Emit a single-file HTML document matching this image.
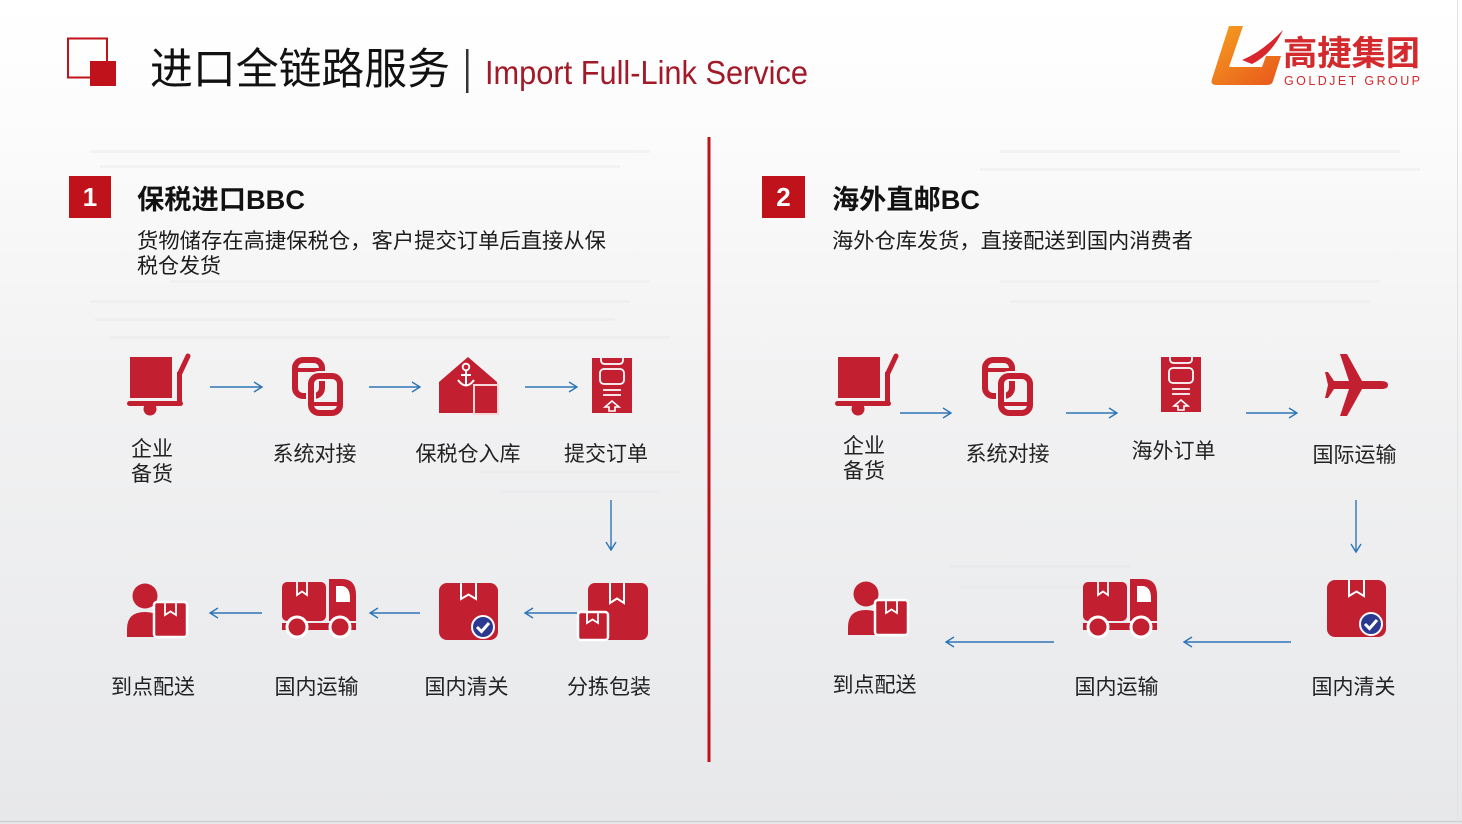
<!DOCTYPE html>
<html><head><meta charset="utf-8">
<style>
html,body{margin:0;padding:0;width:1462px;height:824px;overflow:hidden;background:#fff;}
svg{display:block;}
text{font-family:"Liberation Sans","Noto Sans CJK SC",sans-serif;}
</style></head>
<body>
<svg width="1462" height="824" viewBox="0 0 1462 824" xmlns="http://www.w3.org/2000/svg">
<defs>
  <linearGradient id="bg" x1="0" y1="0" x2="0" y2="1">
    <stop offset="0" stop-color="#ffffff"/>
    <stop offset="0.14" stop-color="#fcfcfc"/>
    <stop offset="0.45" stop-color="#f2f2f3"/>
    <stop offset="1" stop-color="#e7e8ea"/>
  </linearGradient>
  <linearGradient id="og" x1="0" y1="0" x2="1" y2="1">
    <stop offset="0" stop-color="#f6a020"/>
    <stop offset="1" stop-color="#e8561c"/>
  </linearGradient>
  <g id="cart" fill="#c21f30">
    <rect x="3" y="3" width="42" height="41"/>
    <rect x="0" y="47" width="56" height="5" rx="2.5"/>
    <rect x="50" y="18" width="5" height="33"/>
    <line x1="52.5" y1="20" x2="61" y2="2" stroke="#c21f30" stroke-width="5" stroke-linecap="round"/>
    <circle cx="23" cy="55" r="6.5"/>
  </g>
  <g id="sys" fill="none">
    <rect x="3" y="5" width="27" height="36" rx="8" stroke="#c21f30" stroke-width="6"/>
    <line x1="3" y1="15" x2="30" y2="15" stroke="#c21f30" stroke-width="4"/>
    <rect x="19" y="21" width="29" height="37" rx="8" stroke="#f1f1f2" stroke-width="10"/>
    <rect x="19" y="21" width="29" height="37" rx="8" stroke="#c21f30" stroke-width="6"/>
    <line x1="19" y1="49" x2="48" y2="49" stroke="#c21f30" stroke-width="4"/>
  </g>
  <g id="wh">
    <polygon points="0,25 29,0 58,25 58,56 0,56" fill="#c21f30"/>
    <circle cx="27" cy="10" r="3.3" fill="none" stroke="#fff" stroke-width="1.8"/>
    <line x1="27" y1="13.5" x2="27" y2="29" stroke="#fff" stroke-width="2"/>
    <line x1="22" y1="18" x2="32" y2="18" stroke="#fff" stroke-width="2"/>
    <path d="M19 23 Q27 34 35 23" fill="none" stroke="#fff" stroke-width="2"/>
    <rect x="35" y="28" width="24" height="29" fill="#c21f30" stroke="#f6d6d8" stroke-width="2"/>
  </g>
  <g id="ord">
    <rect x="0" y="0" width="40" height="55" fill="#c21f30"/>
    <path d="M9 0 L9 2 Q9 6 13 6 L27 6 Q31 6 31 2 L31 0" fill="none" stroke="#fff" stroke-width="1.8"/>
    <rect x="8" y="11" width="24" height="15" rx="4" fill="none" stroke="#fff" stroke-width="1.8"/>
    <line x1="11" y1="32" x2="29" y2="32" stroke="#fff" stroke-width="1.8"/>
    <line x1="11" y1="37" x2="29" y2="37" stroke="#fff" stroke-width="1.8"/>
    <path d="M20 43 L13 49 L17 49 L17 53 L23 53 L23 49 L27 49 Z" fill="none" stroke="#fff" stroke-width="1.6"/>
  </g>
  <g id="plane">
    <path d="M63 31 Q63 27 56 27 L37 27 L22 0 L15 0 L24 27 L9 27 L3 18 L0 18 L3 31 L0 44 L3 44 L9 35 L24 35 L15 62 L22 62 L37 35 L56 35 Q63 35 63 31 Z" fill="#c21f30"/>
  </g>
  <g id="person">
    <circle cx="18" cy="14" r="12.5" fill="#c21f30"/>
    <path d="M0 55 L0 47 Q0 30 18 30 Q28 30 33 35 L33 55 Z" fill="#c21f30"/>
    <rect x="27" y="20" width="33" height="35" rx="3" fill="#c21f30" stroke="#fff" stroke-width="2.5"/>
    <path d="M38 21 L38 33 L43.5 29.5 L49 33 L49 21" fill="none" stroke="#fff" stroke-width="1.8"/>
  </g>
  <g id="truck">
    <rect x="0" y="3" width="44" height="39" rx="5" fill="#c21f30"/>
    <path d="M15 3 L15 16 L20 12.5 L25 16 L25 3" fill="none" stroke="#fff" stroke-width="1.8"/>
    <path d="M47 0 L60 0 Q74 0 74 16 L74 42 L47 42 Z" fill="#c21f30"/>
    <path d="M54 7 L60 7 Q68 8 68 19 L68 23 L54 23 Z" fill="#fff"/>
    <rect x="0" y="44" width="74" height="7" fill="#c21f30"/>
    <circle cx="15" cy="48" r="10" fill="#c21f30" stroke="#fff" stroke-width="3"/>
    <circle cx="58" cy="48" r="10" fill="#c21f30" stroke="#fff" stroke-width="3"/>
  </g>
  <g id="boxc">
    <rect x="0" y="0" width="59" height="57" rx="8" fill="#c21f30"/>
    <path d="M22 0 L22 16 L29.5 11.5 L37 16 L37 0" fill="none" stroke="#fff" stroke-width="2"/>
    <circle cx="44" cy="44" r="11" fill="#2b3990" stroke="#fff" stroke-width="2"/>
    <path d="M38 44 L42.5 48.5 L50 40" fill="none" stroke="#fff" stroke-width="3"/>
  </g>
  <g id="boxes">
    <rect x="11" y="0" width="60" height="57" rx="7" fill="#c21f30"/>
    <path d="M33 0 L33 20 L40 15.5 L47 20 L47 0" fill="none" stroke="#fff" stroke-width="2"/>
    <rect x="1" y="29" width="30" height="28" rx="3" fill="#c21f30" stroke="#fff" stroke-width="2.5"/>
    <path d="M10 30 L10 40 L15.5 36.5 L21 40 L21 30" fill="none" stroke="#fff" stroke-width="1.8"/>
  </g>
</defs>

<rect x="0" y="0" width="1462" height="824" fill="url(#bg)"/>
<g fill="#e4e5e8" opacity="0.35">
  <rect x="90" y="150" width="560" height="3"/><rect x="100" y="165" width="520" height="3"/>
  <rect x="170" y="280" width="480" height="3"/><rect x="90" y="300" width="540" height="3"/>
  <rect x="95" y="318" width="520" height="3"/><rect x="110" y="336" width="560" height="3"/>
  <rect x="480" y="470" width="200" height="3"/><rect x="500" y="490" width="160" height="3"/>
  <rect x="1000" y="150" width="400" height="3"/><rect x="980" y="168" width="440" height="3"/>
  <rect x="1000" y="280" width="380" height="3"/><rect x="1010" y="300" width="360" height="3"/>
  <rect x="950" y="565" width="180" height="3"/><rect x="960" y="585" width="170" height="3"/>
</g>
<line x1="0" y1="821.5" x2="1462" y2="821.5" stroke="#cfd0d3" stroke-width="1.5"/>
<line x1="1457.5" y1="0" x2="1457.5" y2="822" stroke="#e0e1e3" stroke-width="1"/>

<rect x="68" y="38.5" width="39" height="39" fill="none" stroke="#c0121b" stroke-width="2"/>
<rect x="90" y="61" width="26" height="25" fill="#c0121b"/>
<text x="150" y="84" font-size="43" fill="#111" textLength="300" lengthAdjust="spacingAndGlyphs">进口全链路服务</text>
<rect x="466" y="49" width="2.5" height="44" fill="#333"/>
<text x="485" y="84" font-size="33" fill="#a11a28" textLength="323" lengthAdjust="spacingAndGlyphs">Import Full-Link Service</text>

<path d="M1229 26 L1243 26 L1229 67 L1262 67 L1266 56 L1281 56 L1273 81 Q1272 85 1267 85 L1216 85 Q1210 85 1212 79 Z" fill="url(#og)"/>
<path d="M1242 60 Q1262 52 1283 30 Q1272 54 1252 64 Z" fill="#d8262c"/>
<text x="1283" y="65" font-size="34" font-weight="bold" fill="#d42a2d" textLength="137" lengthAdjust="spacingAndGlyphs">高捷集团</text>
<text x="1284" y="85" font-size="12.5" fill="#d42a2d" textLength="136" lengthAdjust="spacing">GOLDJET GROUP</text>

<rect x="707.5" y="137" width="3" height="625" fill="#c0121b"/>

<rect x="69" y="176" width="42" height="42" fill="#c0121b"/>
<text x="90" y="206" font-size="26" font-weight="bold" fill="#fff" text-anchor="middle">1</text>
<text x="137" y="209" font-size="27" font-weight="bold" fill="#111" textLength="168" lengthAdjust="spacingAndGlyphs">保税进口BBC</text>
<text x="137" y="248" font-size="21" fill="#1c1c1c" textLength="469" lengthAdjust="spacingAndGlyphs">货物储存在高捷保税仓，客户提交订单后直接从保</text>
<text x="137" y="273" font-size="21" fill="#1c1c1c">税仓发货</text>

<rect x="762" y="176" width="43" height="42" fill="#c0121b"/>
<text x="783.5" y="206" font-size="26" font-weight="bold" fill="#fff" text-anchor="middle">2</text>
<text x="832" y="209" font-size="27" font-weight="bold" fill="#111" textLength="148" lengthAdjust="spacingAndGlyphs">海外直邮BC</text>
<text x="832" y="248" font-size="21" fill="#1c1c1c" textLength="361" lengthAdjust="spacingAndGlyphs">海外仓库发货，直接配送到国内消费者</text>

<use href="#cart" x="127" y="354"/>
<use href="#sys" x="292" y="355"/>
<use href="#wh" x="439" y="357"/>
<use href="#ord" x="592" y="358"/>
<use href="#person" x="127" y="582"/>
<use href="#truck" x="282" y="579"/>
<use href="#boxc" x="439" y="583"/>
<use href="#boxes" x="577" y="583"/>

<use href="#cart" x="835" y="354"/>
<use href="#sys" x="982" y="355"/>
<use href="#ord" x="1161" y="357"/>
<use href="#plane" x="1325" y="354"/>
<use href="#person" x="848" y="580"/>
<use href="#truck" x="1083" y="579"/>
<use href="#boxc" x="1327" y="580"/>

<g fill="none" stroke="#2e75b6" stroke-width="1.4">
  <path d="M210 387 H262 M254 382 L262 387 L254 392"/>
  <path d="M369 387 H420 M412 382 L420 387 L412 392"/>
  <path d="M525 387 H577 M569 382 L577 387 L569 392"/>
  <path d="M611 500 V550 M606 542 L611 550 L616 542"/>
  <path d="M262 613 H210 M218 608 L210 613 L218 618"/>
  <path d="M420 613 H370 M378 608 L370 613 L378 618"/>
  <path d="M577 613 H525 M533 608 L525 613 L533 618"/>
  <path d="M900 413 H951 M943 408 L951 413 L943 418"/>
  <path d="M1066 413 H1117 M1109 408 L1117 413 L1109 418"/>
  <path d="M1246 413 H1297 M1289 408 L1297 413 L1289 418"/>
  <path d="M1356 500 V552 M1351 544 L1356 552 L1361 544"/>
  <path d="M1054 642 H946 M954 637 L946 642 L954 647"/>
  <path d="M1291 642 H1184 M1192 637 L1184 642 L1192 647"/>
</g>

<g font-size="21" fill="#222" text-anchor="middle">
  <text x="152" y="456">企业</text>
  <text x="152" y="481">备货</text>
  <text x="314.5" y="461">系统对接</text>
  <text x="468" y="461">保税仓入库</text>
  <text x="606" y="461">提交订单</text>
  <text x="153" y="694">到点配送</text>
  <text x="316.5" y="694">国内运输</text>
  <text x="466.5" y="694">国内清关</text>
  <text x="609" y="694">分拣包装</text>

  <text x="864" y="453">企业</text>
  <text x="864" y="478">备货</text>
  <text x="1007.5" y="461">系统对接</text>
  <text x="1173.5" y="458">海外订单</text>
  <text x="1354.5" y="462">国际运输</text>
  <text x="874.5" y="692">到点配送</text>
  <text x="1116.5" y="694">国内运输</text>
  <text x="1353.5" y="694">国内清关</text>
</g>
</svg>
</body></html>
